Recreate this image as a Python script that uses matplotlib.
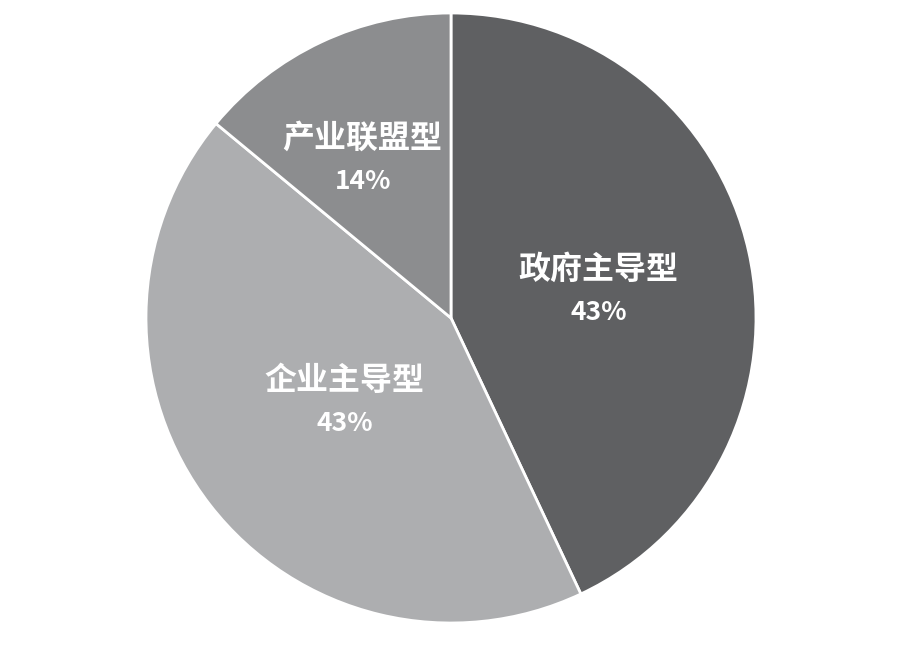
import numpy as np
import matplotlib
matplotlib.use("Agg")
import matplotlib.pyplot as plt

plt.rcParams['font.family'] = ['Noto Sans CJK SC', 'DejaVu Sans']

categories = ['政府主导型', '企业主导型', '产业联盟型']
values = [43, 43, 14]
pct_labels = ['43%', '43%', '14%']
colors = ['#5f6062', '#adaeb0', '#8c8d8f']
label_r = [0.49, 0.45, 0.61]
label_shift = [(0.006, -0.02), (0.006, 0.0), (-0.03, -0.033)]

fig = plt.figure(figsize=(9, 6.52), dpi=100, facecolor='white')
ax = fig.add_axes([146/900, (652-623)/652, 610/900, 610/652])
wedges, _ = ax.pie(values, colors=colors, startangle=90, counterclock=False,
                   wedgeprops=dict(edgecolor='white', linewidth=2))
ax.set_xlim(-1, 1)
ax.set_ylim(-1, 1)
ax.set_aspect('equal')
ax.axis('off')

for w, cat, pct, r, (dx, dy) in zip(wedges, categories, pct_labels, label_r, label_shift):
    ang = np.deg2rad((w.theta1 + w.theta2) / 2)
    x, y = r * np.cos(ang) + dx, r * np.sin(ang) + dy
    ax.text(x, y + 0.07, cat, ha='center', va='center', color='white',
            fontsize=23, fontweight='bold')
    ax.text(x, y - 0.07, pct, ha='center', va='center', color='white',
            fontsize=19, fontweight='bold')

fig.savefig('out.png', dpi=100, facecolor='white')
